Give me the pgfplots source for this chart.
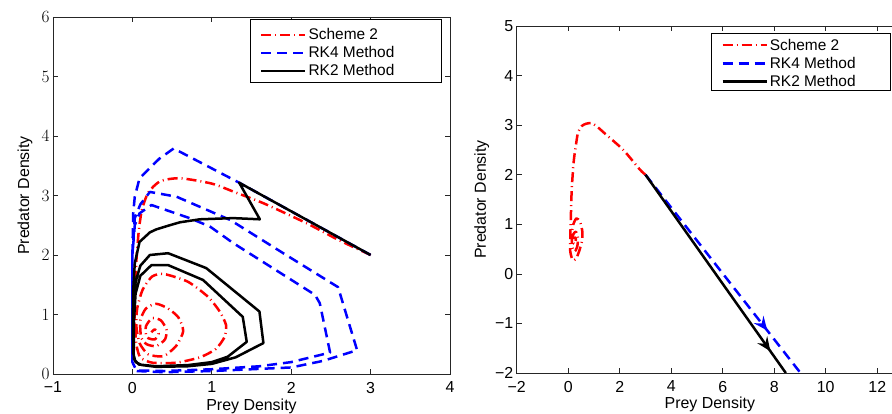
\documentclass[border=0pt]{standalone}
\usepackage{fontspec}
\setmainfont{Liberation Sans}
\usepackage{pgfplots}
\pgfplotsset{compat=1.18}
\usetikzlibrary{arrows.meta,decorations.markings}

\pgfplotsset{
  mstyle/.style={
    scale only axis,
    axis line style={draw=black!85, line width=0.7bp},
    tick style={draw=black!85, line width=0.7bp},
    major tick length=5bp,
    tick align=inside,
    ticklabel style={font=\fontsize{16}{18}\selectfont},
    xticklabel style={yshift=-4.5bp},
    label style={font=\fontsize{16}{18}\selectfont},
    legend style={draw=none, fill=none, anchor=north west, cells={anchor=west}, font=\fontsize{15.5}{17}\selectfont},
    legend image code/.code={\draw[##1] (0bp,0bp) -- (44bp,0bp);},
  },
  sch/.style={red, line width=2.5bp, dash pattern=on 10bp off 4bp on 1bp off 4bp, line join=round},
  rk4/.style={blue, line width=2.5bp, dash pattern=on 10bp off 6bp, line join=round},
  rk2/.style={black, line width=2.5bp, line join=round},
}

\begin{document}
\begin{tikzpicture}
% ---------------- left panel ----------------
\begin{axis}[mstyle,
  at={(53bp,40bp)}, anchor=south west,
  width=397bp, height=357bp,
  xmin=-1, xmax=4, ymin=0, ymax=6,
  xtick={-1,0,1,2,3,4}, xticklabels={−1,0,1,2,3,4},
  ytick={0,1,2,3,4,5,6},
  xlabel={Prey Density}, ylabel={Predator Density},
  xlabel style={at={(axis description cs:0.5,-0.0915)}, anchor=center},
  ylabel style={at={(axis description cs:-0.0705,0.5)}, anchor=center},
  legend style={at={(axis description cs:0.5136,0.9788)}, row sep=1.2bp},
]
\draw[black, line width=0.7bp, fill=white] (axis description cs:0.496,0.9936) rectangle (axis description cs:0.979,0.816);
\addplot[sch, smooth, tension=0.4] coordinates {
(3,2) (2.6,2.25) (2.2,2.53) (1.65,2.87) (1.3,3.05) (1.0,3.2) (0.6,3.29) (0.35,3.24) (0.2,3.05) (0.12,2.76) (0.08,2.4) (0.05,1.9) (0.03,1.4) (0.03,0.9) (0.05,0.5) (0.1,0.28) (0.25,0.19) (0.55,0.19) (0.85,0.28) (1.05,0.42) (1.16,0.62) (1.18,0.82) (1.1,1.05) (0.95,1.3) (0.7,1.55) (0.4,1.68) (0.25,1.64) (0.13,1.42) (0.06,1.1) (0.05,0.8) (0.09,0.52) (0.2,0.33) (0.39,0.3) (0.55,0.47) (0.64,0.72) (0.58,0.95) (0.45,1.1) (0.3,1.18) (0.17,1.1) (0.1,0.9) (0.11,0.62) (0.18,0.5) (0.3,0.47) (0.41,0.58) (0.43,0.74) (0.36,0.9) (0.25,0.94) (0.17,0.8) (0.18,0.62) (0.28,0.58) (0.33,0.68) (0.28,0.75) (0.24,0.7)
};
\addlegendentry{Scheme 2}
\addplot[rk4] coordinates {
(3,2) (1.345,3.215) (0.52,3.79) (0.34,3.62) (0.09,3.29) (0.03,2.98) (0.01,2.7) (0.0,2.0) (0.0,1.0) (0.0,0.2) (0.05,0.05) (0.4,0.03) (1.0,0.05) (1.5,0.08) (2.0,0.11) (2.4,0.22) (2.83,0.4) (2.59,1.46) (1.9,2.03) (1.23,2.59) (0.555,2.98) (0.22,3.06) (0.1,2.85) (0.03,2.62) (0.0,2.0) (0.0,1.0) (0.0,0.2) (0.05,0.06) (0.4,0.05) (1.0,0.08) (1.6,0.13) (2.0,0.2) (2.49,0.36) (2.36,1.19) (2.3,1.33) (1.27,2.2) (0.975,2.48) (0.72,2.62) (0.24,2.84) (0.09,2.7) (0.03,2.5) (0.0,2.0) (0.0,1.0) (0.0,0.3)
};
\addlegendentry{RK4 Method}
\addplot[rk2] coordinates {
(3,2) (1.345,3.215) (1.605,2.6) (1.27,2.62) (0.85,2.6) (0.6,2.55) (0.47,2.5) (0.3,2.43) (0.22,2.38) (0.09,2.22) (0.03,1.86) (0.01,1.4) (0.005,0.8) (0.01,0.35) (0.04,0.2) (0.12,0.15) (0.3,0.12) (0.7,0.13) (1.0,0.17) (1.3,0.28) (1.65,0.52) (1.6,1.05) (0.93,1.78) (0.45,2.03) (0.22,2.0) (0.1,1.82) (0.04,1.55) (0.015,1.1) (0.01,0.5) (0.02,0.25) (0.08,0.16) (0.3,0.13) (0.7,0.15) (1.0,0.2) (1.2,0.29) (1.44,0.54) (1.39,0.96) (0.89,1.58) (0.45,1.83) (0.24,1.83) (0.1,1.65) (0.04,1.35) (0.02,0.9) (0.02,0.4)
};
\addlegendentry{RK2 Method}
\end{axis}

% ---------------- right panel ----------------
\begin{axis}[mstyle,
  at={(516.7bp,41bp)}, anchor=south west,
  width=386.3bp, height=347bp,
  xmin=-2, xmax=13, ymin=-2, ymax=5,
  xtick={-2,0,2,4,6,8,10,12}, xticklabels={−2,0,2,4,6,8,10,12},
  ytick={-2,-1,0,1,2,3,4,5}, yticklabels={−2,−1,0,1,2,3,4,5},
  xlabel={Prey Density}, ylabel={Predator Density},
  xlabel style={at={(axis description cs:0.5,-0.089)}, anchor=center},
  ylabel style={at={(axis description cs:-0.0906,0.5)}, anchor=center},
  legend style={at={(axis description cs:0.5214,0.975)}, row sep=1.5bp},
]
\draw[black, line width=0.7bp, fill=white] (axis description cs:0.503,0.980) rectangle (axis description cs:0.968,0.8135);
\addplot[sch, smooth, tension=0.4, forget plot] coordinates {
(3,2) (2.79,2.1) (2.14,2.5) (1.49,2.8) (1.1,2.98) (0.91,3.04) (0.7,3.03) (0.52,2.98) (0.38,2.85) (0.3,2.6) (0.22,2.3) (0.16,1.9) (0.13,1.62) (0.1,1.1) (0.08,0.7) (0.08,0.45) (0.17,0.28) (0.3,0.3) (0.42,0.45) (0.53,0.65) (0.55,0.85) (0.46,1.05) (0.32,1.12) (0.2,1.0) (0.14,0.8) (0.15,0.55) (0.25,0.45) (0.35,0.55) (0.38,0.72) (0.3,0.85) (0.2,0.8) (0.18,0.65) (0.25,0.6) (0.3,0.7) (0.24,0.74)
};
\addplot[rk4, forget plot, postaction={decorate}, decoration={markings, mark=at position 0.786 with {\arrow{Stealth[length=14bp,width=12bp,inset=5bp]}}}] coordinates {
(3,2) (9.02,-2)
};
\addplot[rk2, forget plot, postaction={decorate}, decoration={markings, mark=at position 0.89 with {\arrow{Stealth[length=14bp,width=12bp,inset=5bp]}}}] coordinates {
(3,2) (8.45,-2)
};
\addlegendimage{sch}
\addlegendentry{Scheme 2}
\addlegendimage{rk4}
\addlegendentry{RK4 Method}
\addlegendimage{rk2}
\addlegendentry{RK2 Method}
\end{axis}

\pgfresetboundingbox
\path[use as bounding box] (0bp,0bp) rectangle (892bp,414bp);
\end{tikzpicture}
\end{document}
